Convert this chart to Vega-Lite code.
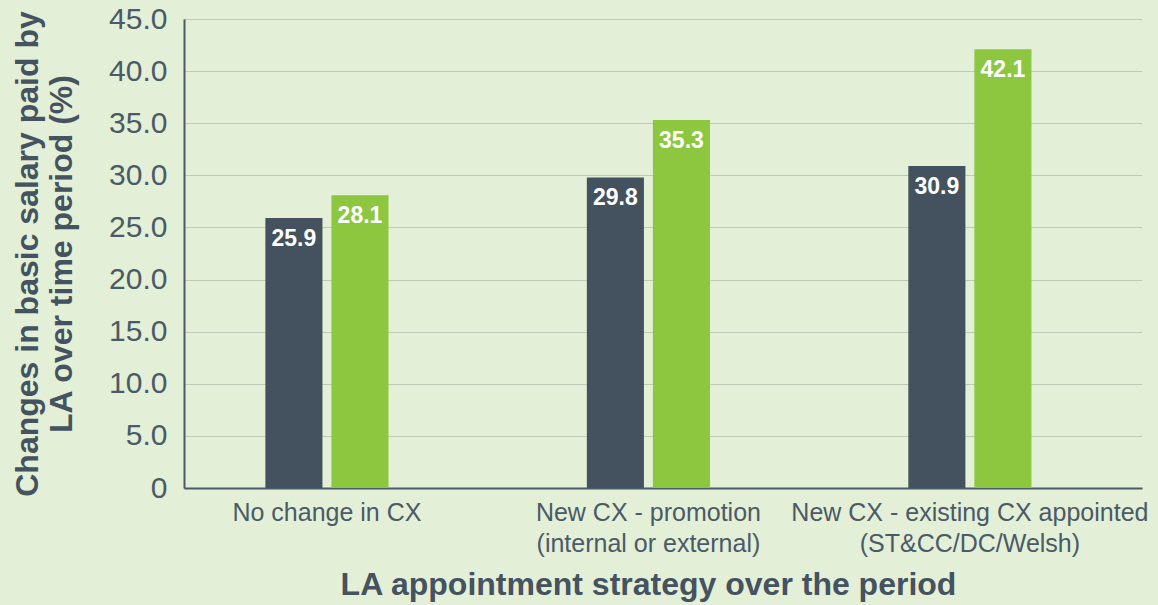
{
  "$schema": "https://vega.github.io/schema/vega-lite/v6.json",
  "width": 958,
  "height": 469,
  "autosize": {"type": "none"},
  "padding": {"left": 184, "top": 19, "right": 16, "bottom": 117},
  "background": "#e3efd6",
  "config": {
    "view": {"stroke": null},
    "font": "Liberation Sans"
  },
  "data": {
    "values": [
      {"strategy": "No change in CX", "series": "A", "value": 25.9},
      {"strategy": "No change in CX", "series": "B", "value": 28.1},
      {"strategy": "New CX - promotion|(internal or external)", "series": "A", "value": 29.8},
      {"strategy": "New CX - promotion|(internal or external)", "series": "B", "value": 35.3},
      {"strategy": "New CX - existing CX appointed|(ST&CC/DC/Welsh)", "series": "A", "value": 30.9},
      {"strategy": "New CX - existing CX appointed|(ST&CC/DC/Welsh)", "series": "B", "value": 42.1}
    ]
  },
  "encoding": {
    "x": {
      "field": "strategy",
      "type": "nominal",
      "sort": null,
      "scale": {"paddingInner": 0.617, "paddingOuter": 0.2985, "align": 0.424},
      "axis": {
        "title": "LA appointment strategy over the period",
        "titleFontSize": 32,
        "titleFontWeight": "bold",
        "titleColor": "#44535f",
        "titlePadding": 13,
        "titleLimit": 0,
        "titleX": 464,
        "titleAlign": "center",
        "labelExpr": "split(datum.value, '|')",
        "labelAngle": 0,
        "labelFontSize": 25,
        "labelColor": "#4a5a66",
        "labelLineHeight": 31,
        "labelPadding": 12,
        "labelLimit": 0,
        "ticks": false,
        "domainColor": "#4a5a66",
        "domainWidth": 2,
        "grid": false
      }
    },
    "xOffset": {
      "field": "series",
      "type": "nominal",
      "scale": {"paddingInner": 0.136, "paddingOuter": 0}
    },
    "y": {
      "field": "value",
      "type": "quantitative",
      "scale": {"domain": [0, 45], "nice": false},
      "axis": {
        "title": ["Changes in basic salary paid by", "LA over time period (%)"],
        "titleFontSize": 32,
        "titleFontWeight": "bold",
        "titleColor": "#44535f",
        "titleLineHeight": 34,
        "titlePadding": 30,
        "titleLimit": 0,
        "values": [0, 5, 10, 15, 20, 25, 30, 35, 40, 45],
        "labelExpr": "datum.value == 0 ? '0' : format(datum.value, '.1f')",
        "labelFontSize": 30,
        "labelColor": "#4a5a66",
        "labelPadding": 17,
        "ticks": false,
        "domainColor": "#4a5a66",
        "domainWidth": 2,
        "gridColor": "#9aa39a",
        "gridDash": [1, 1],
        "gridWidth": 1
      }
    }
  },
  "layer": [
    {
      "mark": {"type": "bar"},
      "encoding": {
        "color": {
          "field": "series",
          "type": "nominal",
          "scale": {"domain": ["A", "B"], "range": ["#43525e", "#8dc63f"]},
          "legend": null
        }
      }
    },
    {
      "mark": {
        "type": "text",
        "baseline": "top",
        "align": "center",
        "dy": 10,
        "fontSize": 23,
        "fontWeight": "bold",
        "color": "white"
      },
      "encoding": {
        "text": {"field": "value", "type": "quantitative", "format": ".1f"}
      }
    }
  ]
}
